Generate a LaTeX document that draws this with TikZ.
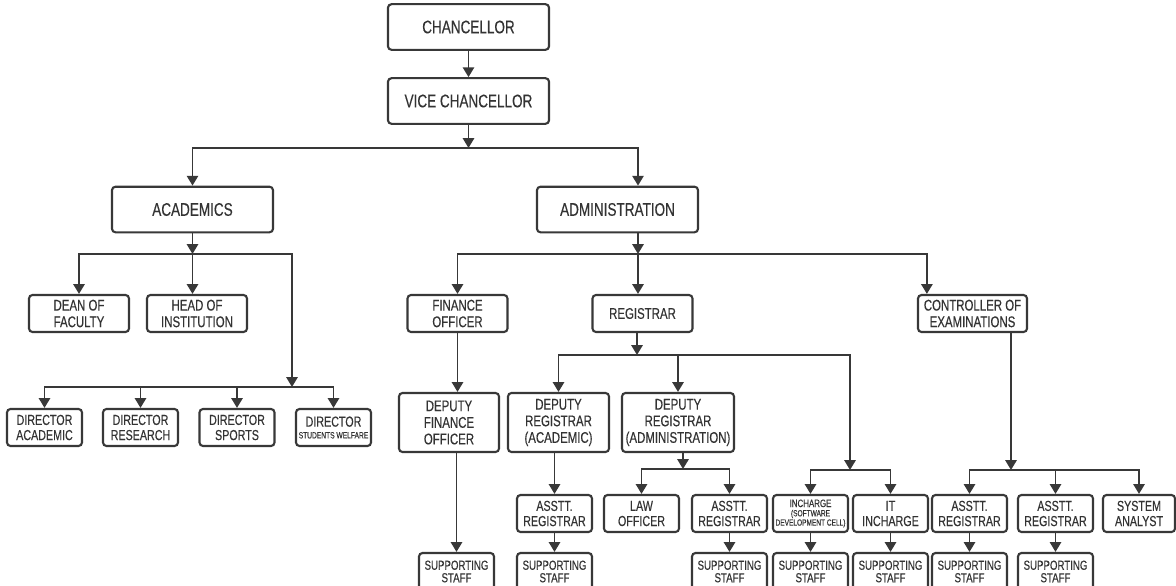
\documentclass[tikz,border=0pt]{standalone}
\usepackage{fontspec}
\newfontfamily\chartfont[FakeStretch=0.74, FakeBold=0.3]{Liberation Sans}
\usetikzlibrary{arrows.meta}
\definecolor{ink}{HTML}{383838}
\definecolor{print}{HTML}{333333}
\tikzset{every picture/.style = {x=0.025cm, y=-0.025cm}}
\tikzset{box/.style = {draw=ink, line width=1.5pt, rounded corners=2.5pt, fill=white, align=center, inner sep=0pt, text=print}}
\tikzset{chief/.style = {box, minimum width=4.025cm, minimum height=1.14cm, font=\chartfont\fontsize{13}{14}\selectfont}}
\tikzset{office/.style = {box, minimum width=2.5cm, minimum height=0.925cm, font=\chartfont\fontsize{11}{11.8}\selectfont}}
\tikzset{desk/.style = {box, minimum width=1.875cm, minimum height=0.925cm, font=\chartfont\fontsize{10.3}{10.8}\selectfont}}
\tikzset{staff/.style = {desk, font=\chartfont\fontsize{9.3}{8.9}\selectfont}}
\tikzset{link/.style = {draw=ink, line width=1.4pt, -{Triangle[length=7pt, width=8pt]}}}

\begin{document}
\begin{tikzpicture}
  \useasboundingbox (0, 0) rectangle (1176, 585);
  \clip (0, 0) rectangle (1176, 585);

  \node[chief] (chan) at (468.5, 27) {CHANCELLOR};
  \node[chief] (vc) at (468.5, 101) {VICE CHANCELLOR};
  \node[chief] (acad) at (192.5, 209.5) {ACADEMICS};
  \node[chief] (admin) at (617.5, 209.5) {ADMINISTRATION};

  \node[office] (dean) at (79, 313.5) {DEAN OF\\FACULTY};
  \node[office] (head) at (197, 313.5) {HEAD OF\\INSTITUTION};
  \node[desk] (dirA) at (44.5, 427.5) {DIRECTOR\\ACADEMIC};
  \node[desk] (dirR) at (140.5, 427.5) {DIRECTOR\\RESEARCH};
  \node[desk] (dirS) at (237, 427.5) {DIRECTOR\\SPORTS};
  \node[desk, font=\chartfont\fontsize{6.4}{8.4}\selectfont] (dirW) at (333.5, 427.5)
    {{\fontsize{10.3}{10.8}\selectfont DIRECTOR}\\STUDENTS WELFARE};

  \node[office] (fin) at (457.5, 313.5) {FINANCE\\OFFICER};
  \node[office] (reg) at (642.5, 313.5) {REGISTRAR};
  \node[office, minimum width=2.725cm] (coe) at (972.5, 313.5) {CONTROLLER OF\\EXAMINATIONS};

  \node[office, minimum height=1.475cm] (dfo) at (449, 422.5) {DEPUTY\\FINANCE\\OFFICER};
  \node[office, minimum width=2.525cm, minimum height=1.475cm] (dra) at (558.5, 422.5) {DEPUTY\\REGISTRAR\\(ACADEMIC)};
  \node[office, minimum width=2.8cm, minimum height=1.475cm] (drad) at (678, 422.5) {DEPUTY\\REGISTRAR\\(ADMINISTRATION)};

  \node[desk] (ar1) at (554.5, 513.5) {ASSTT.\\REGISTRAR};
  \node[desk] (law) at (641.5, 513.5) {LAW\\OFFICER};
  \node[desk] (ar2) at (729.5, 513.5) {ASSTT.\\REGISTRAR};
  \node[desk, font=\chartfont\fontsize{6.3}{6.6}\selectfont] (inch) at (810.5, 513.5)
    {{\fontsize{7.6}{7.6}\selectfont INCHARGE}\\(SOFTWARE\\DEVELOPMENT CELL)};
  \node[desk] (it) at (890.5, 513.5) {IT\\INCHARGE};
  \node[desk] (ar3) at (969.5, 513.5) {ASSTT.\\REGISTRAR};
  \node[desk] (ar4) at (1055.5, 513.5) {ASSTT.\\REGISTRAR};
  \node[desk, minimum width=1.8cm] (sys) at (1139, 513.5) {SYSTEM\\ANALYST};

  \node[staff] (ss0) at (456.5, 571.5) {SUPPORTING\\STAFF};
  \node[staff] (ss1) at (554.5, 571.5) {SUPPORTING\\STAFF};
  \node[staff] (ss2) at (729.5, 571.5) {SUPPORTING\\STAFF};
  \node[staff] (ss3) at (810.5, 571.5) {SUPPORTING\\STAFF};
  \node[staff] (ss4) at (890.5, 571.5) {SUPPORTING\\STAFF};
  \node[staff] (ss5) at (969.5, 571.5) {SUPPORTING\\STAFF};
  \node[staff] (ss6) at (1055.5, 571.5) {SUPPORTING\\STAFF};

  \coordinate (vcbus) at (468.5, 148);
  \coordinate (acbus) at (192.5, 254);
  \coordinate (dirbus) at (292, 387);
  \coordinate (adbus) at (638, 254);
  \coordinate (regbus) at (637, 355);
  \coordinate (dadbus) at (683, 469);
  \coordinate (devbus) at (850, 470);
  \coordinate (coebus) at (1011, 470);

  \draw[link] (chan) -- (vc);
  \draw[link] (vc) -- (vcbus);
  \draw[link] (vcbus) -| (acad);
  \draw[link] (vcbus) -| (admin.north -| adbus);

  \draw[link] (acad) -- (acbus);
  \draw[link] (acbus) -- (head.north -| acbus);
  \draw[link] (acbus) -| (dean);
  \draw[link] (acbus) -| (dirbus);
  \foreach \d in {dirA, dirR, dirS, dirW}
    \draw[link] (dirbus) -| (\d);

  \draw[link] (admin.south -| adbus) -- (adbus);
  \draw[link] (adbus) -| (fin);
  \draw[link] (adbus) -- (reg.north -| adbus);
  \draw[link] (adbus) -| ([xshift=-1.14cm]coe.north);

  \draw[link] (fin.south) -- (fin.south |- dfo.north);
  \draw[link] (ss0.north |- dfo.south) -- (ss0);

  \draw[link] (reg.south -| regbus) -- (regbus);
  \draw[link] (regbus) -| (dra);
  \draw[link] (regbus) -| (drad);
  \draw[link] (regbus) -| (devbus);
  \draw[link] (devbus) -| (inch);
  \draw[link] (devbus) -| (it);

  \draw[link] (ar1.north |- dra.south) -- (ar1);
  \draw[link] (drad.south -| dadbus) -- (dadbus);
  \draw[link] (dadbus) -| (law);
  \draw[link] (dadbus) -| (ar2);

  \draw[link] (coe.south -| coebus) -- (coebus);
  \foreach \n in {ar3, ar4, sys}
    \draw[link] (coebus) -| (\n);

  \foreach \a/\b in {ar1/ss1, ar2/ss2, inch/ss3, it/ss4, ar3/ss5, ar4/ss6}
    \draw[link] (\a) -- (\b);
\end{tikzpicture}
\end{document}
